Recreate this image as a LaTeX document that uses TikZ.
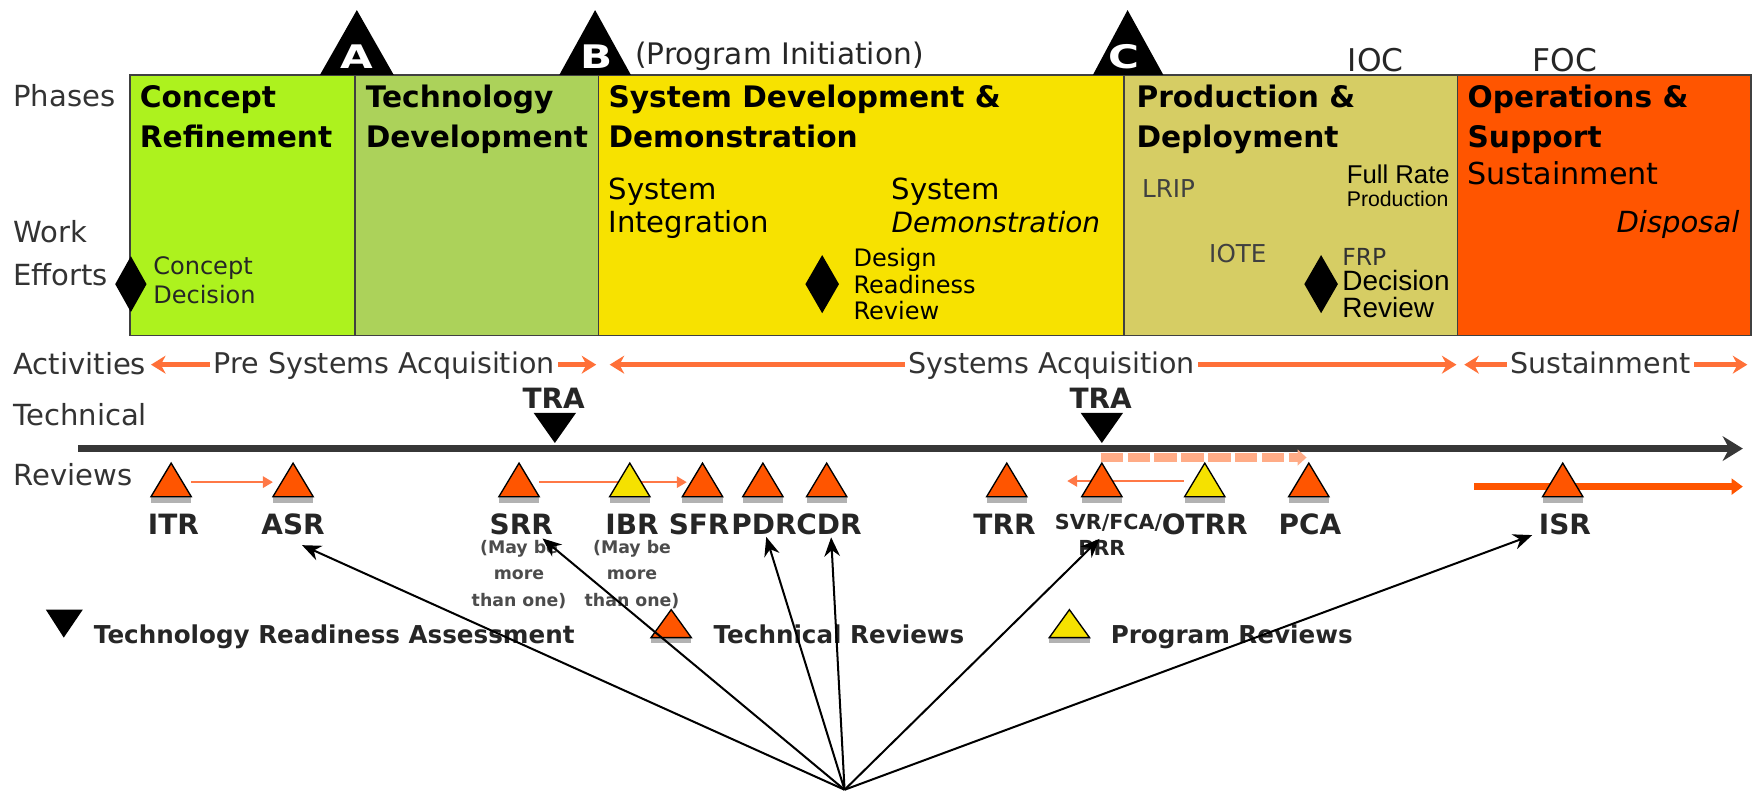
\documentclass[tikz,border=0pt]{standalone}
\usepackage{fontspec}
\usepackage{graphicx}
\setmainfont{DejaVu Sans}
\newfontfamily\narrowf{Liberation Sans}
\usetikzlibrary{arrows.meta}
\definecolor{cr}{RGB}{173,242,30}
\definecolor{td}{RGB}{172,210,90}
\definecolor{sdd}{RGB}{247,226,0}
\definecolor{pd}{RGB}{214,205,100}
\definecolor{os}{RGB}{255,85,0}
\definecolor{act}{RGB}{255,112,56}
\definecolor{salm}{RGB}{255,172,135}
\definecolor{revar}{RGB}{255,120,70}
\definecolor{rvor}{RGB}{255,85,0}
\definecolor{rvye}{RGB}{245,225,0}
\definecolor{tline}{RGB}{55,55,55}
\newcommand\fsz[1]{\fontsize{#1}{#1}\selectfont}
\newcommand\revtri[3]{%
  \fill[black!30] (#1-#3,444) rectangle (#1+#3,450);
  \filldraw[fill=#2,draw=black,line width=1.2pt] (#1-#3,444) -- (#1,414) -- (#1+#3,444) -- cycle;}
\begin{document}
\begin{tikzpicture}[x=1pt,y=-1pt,
  every node/.style={inner sep=0pt,outer sep=0pt},
  phase/.style={draw=black!75,line width=1.6pt},
  ttl/.style={anchor=base west,font=\bfseries\fsz{26.5},text=black},
  tx/.style={anchor=base west,font=\fsz{#1},text=black},
  lbl/.style={anchor=base west,font=\fsz{26},text=black!80},
  rvl/.style={anchor=base,font=\bfseries\fsz{25},text=black!85},
  actline/.style={draw=act,line width=4pt,{Stealth[length=13pt,width=16pt]}-{Stealth[length=13pt,width=16pt]}},
  acttxt/.style={anchor=base west,font=\fsz{25.5},text=black!80,fill=white,inner xsep=3pt},
  revarrow/.style={draw=revar,line width=2.2pt,-{Triangle[length=9pt,width=10pt]}},
  fan/.style={draw=black,line width=1.8pt,-{Stealth[length=17pt,width=14pt]}},
  leg/.style={anchor=base west,font=\bfseries\fsz{22},text=black!85},
  ann/.style={anchor=north,align=center,font=\bfseries\fontsize{15.5}{23.5}\selectfont,text=black!70},
  letter/.style={anchor=base,font=\bfseries\fsz{29},text=white},
]
\useasboundingbox (0,0) rectangle (1568,709);

% phase boxes
\filldraw[phase,fill=cr]  (116,67) rectangle (317,300);
\filldraw[phase,fill=td]  (317,67) rectangle (535,300);
\filldraw[phase,fill=sdd] (535,67) rectangle (1005,300);
\filldraw[phase,fill=pd]  (1005,67) rectangle (1303,300);
\filldraw[phase,fill=os]  (1303,67) rectangle (1565,300);

% milestone triangles
\fill (286,67) -- (319,9) -- (352,67) -- cycle;
\fill (500,67) -- (532,9) -- (564,67) -- cycle;
\fill (977,67) -- (1008,9) -- (1040,67) -- cycle;
\node[letter] (mA) at (319,61) {\scalebox{1.3}[1]{A}};
\node[letter] (mB) at (533,61) {\scalebox{1.3}[1]{B}};
\node[letter] (mC) at (1005,61) {\scalebox{1.3}[1]{C}};
\node[tx=26.5,text=black!85] (pinit) at (568,58) {(Program Initiation)};
\node[tx=28,text=black!85] (ioc) at (1205,64) {IOC};
\node[tx=28,text=black!85] (foc) at (1370,64) {FOC};

% left labels
\node[lbl] (lphases) at (12,95) {Phases};
\node[lbl] (lwork) at (12,217) {Work};
\node[lbl] (lefforts) at (12,255) {Efforts};
\node[lbl] (lact) at (12,335) {Activities};
\node[lbl] (ltech) at (12,380) {Technical};
\node[lbl] (lrev) at (12,434) {Reviews};

% titles
\node[ttl] (t1a) at (125,96) {Concept};
\node[ttl] (t1b) at (125,132) {Refinement};
\node[ttl] (t2a) at (327,96) {Technology};
\node[ttl] (t2b) at (327,132) {Development};
\node[ttl] (t3a) at (544,96) {System Development \&};
\node[ttl] (t3b) at (544,132) {Demonstration};
\node[ttl] (t4a) at (1016,96) {Production \&};
\node[ttl] (t4b) at (1016,132) {Deployment};
\node[ttl] (t5a) at (1312,96) {Operations \&};
\node[ttl] (t5b) at (1312,132) {Support};

% concept decision
\fill (117,229) -- (131,254) -- (117,279) -- (103,254) -- cycle;
\node[tx=21.5,text=black!85] (cd1) at (137,245) {Concept};
\node[tx=21.5,text=black!85] (cd2) at (137,271) {Decision};

% SDD work efforts
\node[tx=26] (si1) at (544,178) {System};
\node[tx=26] (si2) at (544,208) {Integration};
\node[tx=26] (sd1) at (797,178) {System};
\node[tx=25,font=\itshape\fsz{25}] (sd2) at (797,208) {Demonstration};
\fill (735,228) -- (750,254) -- (735,280) -- (720,254) -- cycle;
\node[tx=21.5] (drr1) at (763,238) {Design};
\node[tx=21.5] (drr2) at (763,262) {Readiness};
\node[tx=21.5] (drr3) at (763,286) {Review};

% P&D work efforts
\node[tx=22,text=black!75] (lrip) at (1021,177) {LRIP};
\node[anchor=base west,font=\narrowf\fsz{23}] (fr1) at (1204,164) {Full Rate};
\node[anchor=base west,font=\narrowf\fsz{19}] (fr2) at (1204,185) {Production};
\node[tx=22,text=black!75] (iote) at (1081,235) {IOTE};
\fill (1181,228) -- (1196,254) -- (1181,280) -- (1166,254) -- cycle;
\node[tx=21,text=black!80] (frp1) at (1200,237) {FRP};
\node[anchor=base west,font=\narrowf\fsz{25}] (frp2) at (1200,260) {Decision};
\node[anchor=base west,font=\narrowf\fsz{25}] (frp3) at (1200,284) {Review};

% O&S
\node[tx=27] (sust) at (1312,165) {Sustainment};
\node[anchor=base east,font=\itshape\fsz{26}] (disp) at (1555,208) {Disposal};

% activities
\coordinate (a1l) at (135,326); \coordinate (a1r) at (533,326);
\coordinate (a2l) at (545,326); \coordinate (a2r) at (1302,326);
\coordinate (a3l) at (1309,326); \coordinate (a3r) at (1562,326);
\draw[actline] (a1l) -- (a1r);
\draw[actline] (a2l) -- (a2r);
\draw[actline] (a3l) -- (a3r);
\node[acttxt] (pre) at (188,334) {Pre Systems Acquisition};
\node[acttxt] (sysacq) at (809,334) {Systems Acquisition};
\node[acttxt] (sustact) at (1347,334) {Sustainment};

% timeline
\coordinate (tl0) at (70,401); \coordinate (tl1) at (1558,401);
\draw[tline,line width=7pt,-{Stealth[length=18pt,width=22pt]}] (tl0) -- (tl1);
\coordinate (ds0) at (984,409); \coordinate (ds1) at (1168,409);
\draw[salm,line width=8pt,dash pattern=on 20pt off 4pt,-{Triangle[length=8pt,width=14pt]}] (ds0) -- (ds1);

% TRA markers
\fill (477,369) -- (515,369) -- (496,396) -- cycle;
\node[anchor=base,font=\bfseries\fsz{25},text=black!85] (tra1) at (495,365) {TRA};
\fill (966,369) -- (1004,369) -- (985,396) -- cycle;
\node[anchor=base,font=\bfseries\fsz{25},text=black!85] (tra2) at (984,365) {TRA};

% review positions
\foreach \n/\x in {itr/153,asr/262,srr/464,ibr/563,sfr/628,pdr/682,cdr/739,trr/900,svr/985,otrr/1077,pca/1170,isr/1397}
  {\coordinate (t\n) at (\x,431);}

% review arrows (under triangles)
\draw[revarrow] ([shift={(18,0)}]titr) -- ([shift={(-18,0)}]tasr);
\draw[revarrow] ([shift={(18,0)}]tsrr) -- ([shift={(-14,0)}]tsfr);
\draw[revarrow] ([shift={(-19,-1)}]totrr) -- ([shift={(-31,-1)}]tsvr);
\coordinate (isr0) at (1318,435); \coordinate (isr1) at (1558,435);
\draw[rvor,line width=6pt,-{Triangle[length=10pt,width=14pt]}] (isr0) -- (isr1);

% review triangles
\foreach \x/\c in {153/rvor,262/rvor,464/rvor,563/rvye,628/rvor,682/rvor,739/rvor,900/rvor,985/rvor,1077/rvye,1170/rvor,1397/rvor}
  {\revtri{\x}{\c}{18}}

% review labels
\foreach \n/\x/\t in {itr/155/ITR,asr/262/ASR,srr/466/SRR,ibr/565/IBR,sfr/625/SFR,pdr/683/PDR,cdr/741/CDR,trr/898/TRR,otrr/1077/OTRR,pca/1171/PCA,isr/1399/ISR}
  {\node[rvl] (l\n) at (\x,478) {\t};}
\node[rvl,font=\bfseries\fsz{18.5}] (lsvr) at (991,473) {SVR/FCA/};
\node[rvl,font=\bfseries\fsz{18.5}] (lprr) at (985,497) {PRR};
\node[ann] (msrr) at (464,483) {(May be\\more\\than one)};
\node[ann] (mibr) at (565,483) {(May be\\more\\than one)};

% legend
\fill (41,545) -- (74,545) -- (57,570) -- cycle;
\node[leg] (legtra) at (84,575) {Technology Readiness Assessment};
\fill[black!30] (582,570) rectangle (618,575);
\filldraw[fill=rvor,draw=black,line width=1.2pt] (582,570) -- (600,545) -- (618,570) -- cycle;
\node[leg] (legtr) at (638,575) {Technical Reviews};
\fill[black!30] (938,570) rectangle (974,575);
\filldraw[fill=rvye,draw=black,line width=1.2pt] (938,570) -- (956,545) -- (974,570) -- cycle;
\node[leg] (legpr) at (993,575) {Program Reviews};

% fan arrows
\coordinate (hub) at (755,706);
\draw[fan] (hub) -- ([shift={(8,9)}]lasr.south);
\draw[fan] (hub) -- ([shift={(19,3)}]lsrr.south);
\draw[fan] (hub) -- ([shift={(2,2)}]lpdr.south);
\draw[fan] (hub) -- ([shift={(2,2)}]lcdr.south);
\draw[fan] (hub) -- ([shift={(-8,7)}]lsvr.south);
\draw[fan] (hub) -- ([shift={(-6,0)}]lisr.south west);
\end{tikzpicture}
\end{document}
